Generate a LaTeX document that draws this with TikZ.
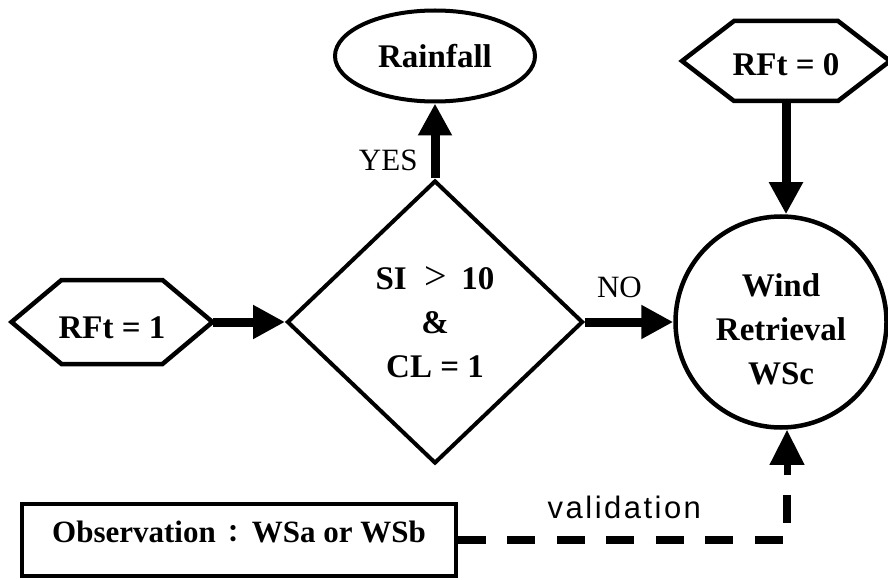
\documentclass[tikz,border=0pt]{standalone}
\usepackage{fontspec}
\setmainfont{Liberation Serif}
\newfontfamily\valfont[LetterSpace=8]{Liberation Sans}
\newfontfamily\cjk{Noto Sans CJK TC}
\usetikzlibrary{arrows.meta,shapes.geometric}
\begin{document}
\begin{tikzpicture}[x=1pt,y=-1pt,
  bigtext/.style={font=\fontsize{33}{44}\selectfont\bfseries},
  lbltext/.style={font=\fontsize{31}{36}\selectfont, inner sep=0pt},
  hexbox/.style={rectangle, inner sep=0pt, outer sep=0pt, bigtext},
  hexline/.style={draw, line width=4.5pt, line join=miter},
  fatarrow/.style={line width=9pt, -{Triangle[length=32pt,width=32pt]}},
  thinarrow/.style={line width=7pt, -{Triangle[length=35pt,width=33pt]}},
  dashline/.style={line width=8pt, dash pattern=on 28pt off 21.5pt}
]
\useasboundingbox (0,0) rectangle (888,580);
\fill[white] (0,0) rectangle (888,580);

% Nodes
\node[hexbox, minimum width=201pt, minimum height=84pt, text height=32pt, text depth=0pt] (rft1) at (112,322) {RFt = 1};
\draw[hexline] (rft1.west) -- ([xshift=50pt]rft1.north west) -- ([xshift=-50pt]rft1.north east)
  -- (rft1.east) -- ([xshift=-50pt]rft1.south east) -- ([xshift=50pt]rft1.south west) -- cycle;

\node[hexbox, minimum width=208pt, minimum height=80pt, text height=30pt, text depth=0pt] (rft0) at (786,61) {RFt = 0};
\draw[hexline] (rft0.west) -- ([xshift=52pt]rft0.north west) -- ([xshift=-52pt]rft0.north east)
  -- (rft0.east) -- ([xshift=-52pt]rft0.south east) -- ([xshift=52pt]rft0.south west) -- cycle;

\node[diamond, draw, line width=4pt, minimum width=296pt, minimum height=283pt, inner sep=0pt,
      align=center, bigtext] (dia) at (435,322)
  {SI\hspace{18pt}{\fontseries{m}\fontsize{40}{44}\selectfont >}\hspace{14pt}10\\\&\\CL = 1};

\node[ellipse, draw, line width=4pt, minimum width=200pt, minimum height=91pt, inner sep=0pt, bigtext]
  (rain) at (435,56) {Rainfall};

\node[circle, draw, line width=4.5pt, minimum size=211pt, inner sep=0pt,
      label={[bigtext, align=center, yshift=-7pt]center:{Wind\\Retrieval\\WSc}}]
  (wind) at (781,322) {};

\node[draw, line width=3.5pt, minimum width=434pt, minimum height=72pt, inner sep=0pt,
      text height=20pt, text depth=16pt, font=\fontsize{31}{36}\selectfont\bfseries]
  (obs) at (239,540) {Observation\hspace{6pt}{\cjk\fontsize{24}{28}\selectfont ：}\hspace{6pt}WSa or WSb};

\coordinate (vcorner) at (787,475);

% Connectors
\draw[fatarrow] (rft1.east) -- (dia.west);
\draw[fatarrow] (dia.north) -- node[lbltext, pos=0.24, left=13pt] {YES} (rain.south);
\draw[fatarrow] (dia.east) -- node[lbltext, pos=0.39, above=20pt] {NO} (wind.west);
\draw[fatarrow] (rft0.south) -- (rft0.south |- wind.north);
\draw[dashline] (obs.east) -| node[pos=0.253, above=17pt, inner sep=0pt,
      font=\fontsize{31}{34}\selectfont\valfont] {validation} (vcorner);
\draw[thinarrow] (vcorner) -- (vcorner |- wind.south);
\end{tikzpicture}
\end{document}
